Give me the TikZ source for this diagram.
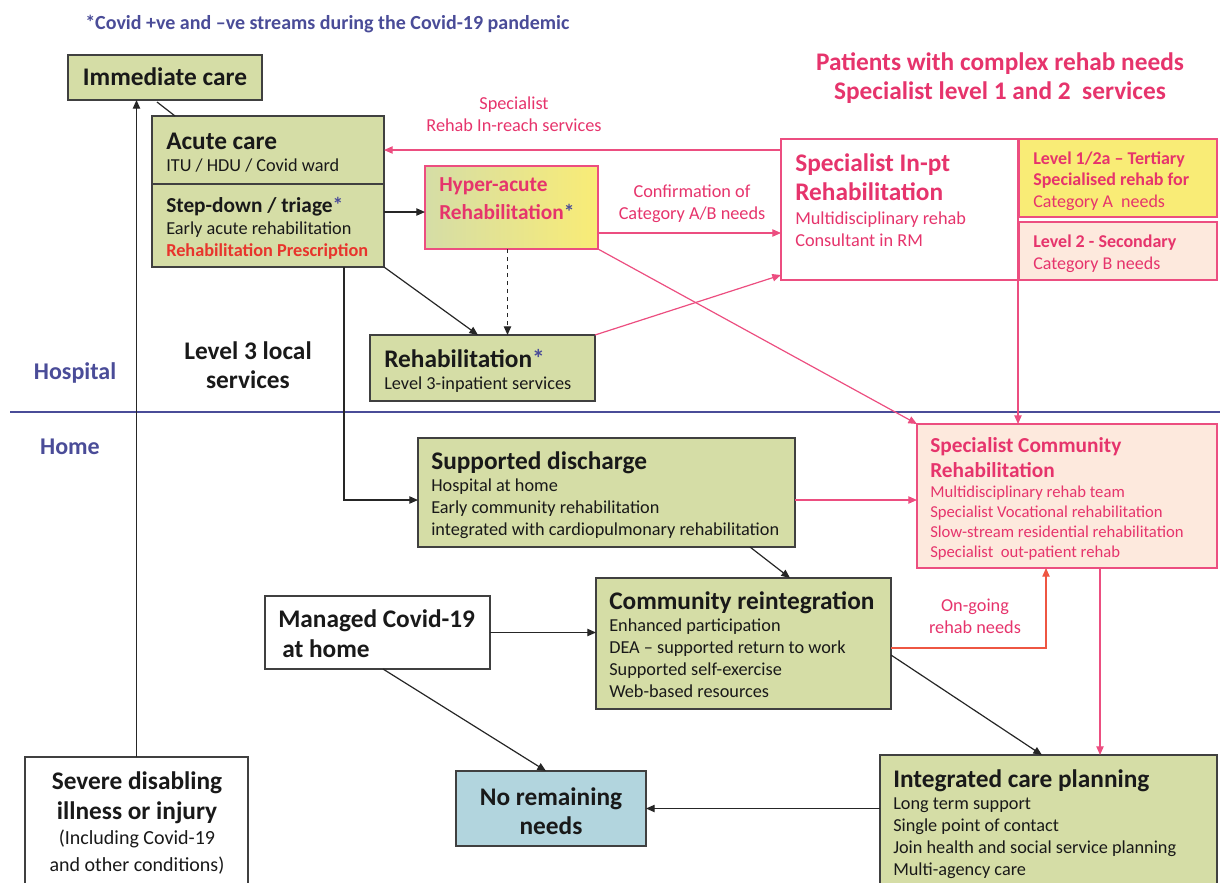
\documentclass[tikz,border=0pt]{standalone}
\usepackage{fontspec}
\setmainfont{Carlito}
\usetikzlibrary{arrows.meta}
\tikzset{>={Triangle[length=6.5pt,width=5.5pt]}}
\definecolor{boxgreen}{RGB}{213,221,166}
\definecolor{boxline}{RGB}{64,64,64}
\definecolor{rpink}{RGB}{236,78,128}
\definecolor{tpink}{RGB}{230,52,108}
\definecolor{rxred}{RGB}{232,52,44}
\definecolor{ogred}{RGB}{238,86,66}
\definecolor{hblue}{RGB}{74,76,152}
\definecolor{lvlyellow}{RGB}{249,236,118}
\definecolor{peach}{RGB}{253,233,221}
\definecolor{nblue}{RGB}{178,213,222}
\newcommand{\bigfont}{\fontsize{19}{22.5}\selectfont\bfseries}
\newcommand{\midfont}{\fontsize{16}{18.75}\selectfont\bfseries}
% a box given by its corners, in pixels
\newcommand{\panel}[6]{%
  \node[#2, anchor=north west, minimum width={(#5-#3)*0.75pt},
        minimum height={(#6-#4)*0.75pt}] (#1) at (#3,#4) {};}
\lineskiplimit=-50pt

\begin{document}
\begin{tikzpicture}[x=0.75pt, y=-0.75pt,
  box/.style={draw=boxline, line width=1.3pt, fill=boxgreen, inner sep=0pt, outer sep=0pt},
  wbox/.style={box, fill=white},
  pbox/.style={box, draw=rpink, line width=1.1pt, fill=white},
  txt/.style={inner sep=0pt, anchor=base west, align=left, text=black!90,
              font=\fontsize{13.7}{16.5}\selectfont},
  ptxt/.style={txt, text=tpink},
  link/.style={->, line width=0.9pt, draw=black!85},
  plink/.style={->, line width=0.9pt, draw=rpink},
]
\useasboundingbox (0,0) rectangle (1220,882);

% hospital / home divide
\draw[hblue, line width=0.8pt] (10,412) -- (1220,412);

% boxes
\panel{imm}{box}{68}{55}{262}{100}
\panel{acute}{box}{152}{116}{384}{184}
\panel{stepd}{box}{152}{184}{384}{267}
\panel{hyper}{box, draw=rpink, line width=1.1pt, left color=boxgreen, right color=lvlyellow}{425}{166}{598}{249}
\panel{inpt}{pbox}{781}{139}{1018}{280}
\panel{lvlone}{pbox, fill=lvlyellow}{1019}{139}{1217}{217}
\panel{lvltwo}{pbox, fill=peach}{1019}{222}{1217}{280}
\panel{rehab}{box}{370}{335}{595}{401}
\panel{supd}{box}{418}{438}{795}{547}
\panel{scom}{pbox, fill=peach}{917}{424}{1217}{568}
\panel{mng}{wbox}{265}{596}{490}{669}
\panel{cri}{box}{596}{578}{891}{709}
\panel{none}{box, fill=nblue}{456}{771}{646}{846}
\panel{icp}{box}{880}{755}{1217}{886}
\panel{sev}{wbox}{25}{757}{248}{886}

% box texts (multi-line nodes sit on their last baseline)
\node[txt, anchor=base, font=\bigfont] (immT) at (165,85) {Immediate care};
\node[txt] (acuteT) at (166,171) {{\bigfont Acute care}\\ITU / HDU / Covid ward};
\node[txt] (stepdT) at (166,256) {{\midfont Step-down / triage\textcolor{hblue}{*}}\\
  Early acute rehabilitation\\\textcolor{rxred}{\bfseries Rehabilitation Prescription}};
\node[ptxt, font=\midfont] (hyperT) at (439,219) {Hyper-acute\\[2.25pt]Rehabilitation\textcolor{hblue}{*}};
\node[ptxt] (inptT) at (795,246) {{\bigfont Specialist In-pt}\\[5.25pt]{\bigfont Rehabilitation}\\[1.5pt]
  Multidisciplinary rehab\\Consultant in RM};
\node[ptxt, font=\fontsize{13.5}{16}\selectfont\bfseries] (lvloneT) at (1033,207)
  {Level 1/2a -- Tertiary\\Specialised rehab for\\{\mdseries Category A~ needs}};
\node[ptxt, font=\fontsize{13.5}{16}\selectfont\bfseries] (lvltwoT) at (1033,269)
  {Level 2 - Secondary\\{\mdseries Category B needs}};
\node[txt] (rehabT) at (384,389) {{\bigfont Rehabilitation\textcolor{hblue}{*}}\\Level 3-inpatient services};
\node[txt] (supdT) at (431,535) {{\bigfont Supported discharge}\\Hospital at home\\
  Early community rehabilitation\\integrated with cardiopulmonary rehabilitation};
\node[ptxt, font=\fontsize{12.5}{15}\selectfont] (scomT) at (930,557)
  {{\midfont Specialist Community}\\[3.75pt]{\midfont Rehabilitation}\\
  Multidisciplinary rehab team\\Specialist Vocational rehabilitation\\
  Slow-stream residential rehabilitation\\Specialist~ out-patient rehab};
\node[txt, font=\bigfont] (mngT) at (278,657) {Managed Covid-19\\\hspace*{3pt}at home};
\node[txt] (criT) at (609,697) {{\bigfont Community reintegration}\\Enhanced participation\\
  DEA -- supported return to work\\Supported self-exercise\\Web-based resources};
\node[txt, anchor=base, align=center, font=\bigfont] (noneT) at (551,834) {No remaining\\[-0.75pt]needs};
\node[txt] (icpT) at (893,875) {{\bigfont Integrated care planning}\\Long term support\\
  Single point of contact\\Join health and social service planning\\Multi-agency care};
\node[txt, anchor=base, align=center, font=\bigfont] (sevT) at (137,871)
  {Severe disabling\\illness or injury\\[-3.75pt]
  {\mdseries\fontsize{15}{18}\selectfont (Including Covid-19}\\[-2.25pt]
  {\mdseries\fontsize{15}{18}\selectfont and other conditions)}};

% free labels
\node[txt, font=\fontsize{15}{18}\selectfont\bfseries, text=hblue] (caption) at (85,29)
  {*Covid +ve and --ve streams during the Covid-19 pandemic};
\node[ptxt, anchor=base, align=center, font=\bigfont] (complexL) at (1000,99)
  {Patients with complex rehab needs\\[-0.75pt]Specialist level 1 and 2~ services};
\node[txt, anchor=base, font=\fontsize{18}{21}\selectfont\bfseries, text=hblue] (hospL) at (75,379) {Hospital};
\node[txt, anchor=base, font=\fontsize{18}{21}\selectfont\bfseries, text=hblue] (homeL) at (70,454) {Home};
\node[txt, anchor=base, align=center, font=\bigfont] (levelL) at (248,388) {Level 3 local\\[-0.75pt]services};
\node[ptxt, anchor=base, align=center] (reachL) at (514,131) {Specialist\\Rehab In-reach services};
\node[ptxt, anchor=base, align=center] (confL) at (692,219) {Confirmation of\\Category A/B needs};
\node[ptxt, anchor=base, align=center] (ongoL) at (975,633) {On-going\\rehab needs};

% connectors
\draw[link] (sev.north) -- (sev.north |- imm.south);
\draw[line width=0.9pt, black!85] ([shift={(-8,2)}]imm.south) -- ([shift={(23,0)}]acute.north west);
\draw[link] ([shift={(0,28)}]stepd.north east) -- ([shift={(0,46)}]hyper.north west);
\draw[link] (stepd.south east) -- ([shift={(108,0)}]rehab.north west);
\draw[link, dashed] ([xshift=-3pt]hyper.south) -- ([xshift=-3pt]hyper.south |- rehab.north);
\draw[link] ([shift={(192,0)}]stepd.south west) |- ([shift={(0,62)}]supd.north west);
\draw[plink] (inpt.west |- acute.east) -- (acute.east);
\draw[plink] ([shift={(0,67)}]hyper.north east) -- ([shift={(0,94)}]inpt.north west);
\draw[plink] (rehab.north east) -- ([shift={(0,-5)}]inpt.south west);
\draw[plink] (hyper.south east) -- (scom.north west);
\draw[plink] (inpt.south east) -- (inpt.south east |- scom.north);
\draw[plink] ([shift={(0,62)}]supd.north east) -- ([shift={(0,76)}]scom.north west);
\draw[link] ([shift={(-45,0)}]supd.south east) -- ([shift={(194,0)}]cri.north west);
\draw[link] (mng.east) -- (mng.east -| cri.west);
\draw[link] ([shift={(118,0)}]mng.south west) -- ([shift={(-5,0)}]none.north);
\draw[->, line width=0.9pt, draw=ogred] ([shift={(0,70)}]cri.north east) -| ([shift={(129,0)}]scom.south west);
\draw[link] ([shift={(0,77)}]cri.north east) -- ([shift={(162,0)}]icp.north west);
\draw[plink] ([shift={(183,0)}]scom.south west) -- ([shift={(183,0)}]scom.south west |- icp.north);
\draw[link] (icp.west |- none.east) -- (none.east);
\end{tikzpicture}
\end{document}
